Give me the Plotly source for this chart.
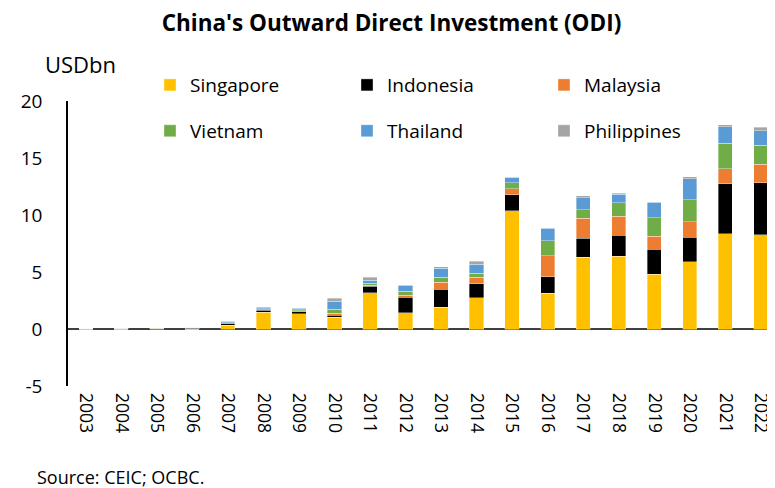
import plotly.graph_objects as go

years = [str(y) for y in range(2003, 2023)]
singapore   = [0.00, 0.00, 0.02, 0.00, 0.35, 1.46, 1.32, 1.02, 3.16, 1.43, 1.93, 2.72, 10.38, 3.13, 6.29, 6.40, 4.80, 5.90, 8.36, 8.27]
indonesia   = [0.03, 0.06, 0.01, 0.06, 0.09, 0.18, 0.20, 0.18, 0.58, 1.35, 1.55, 1.26, 1.40, 1.46, 1.67, 1.84, 2.19, 2.16, 4.39, 4.56]
malaysia    = [0.00, 0.00, 0.00, 0.05, 0.02, 0.06, 0.06, 0.17, 0.09, 0.20, 0.64, 0.56, 0.53, 1.84, 1.75, 1.64, 1.14, 1.37, 1.32, 1.61]
vietnam     = [0.00, 0.02, 0.02, 0.04, 0.09, 0.06, 0.12, 0.35, 0.20, 0.35, 0.44, 0.35, 0.53, 1.29, 0.76, 1.20, 1.64, 1.90, 2.22, 1.70]
thailand    = [0.00, 0.02, 0.05, 0.02, 0.10, 0.12, 0.10, 0.73, 0.23, 0.53, 0.76, 0.79, 0.41, 1.11, 1.05, 0.73, 1.37, 1.84, 1.46, 1.26]
philippines = [0.00, 0.00, 0.01, 0.00, 0.05, 0.06, 0.08, 0.23, 0.26, 0.03, 0.12, 0.26, 0.06, 0.06, 0.15, 0.09, 0.02, 0.18, 0.18, 0.29]

ytick_vals = [-5, 0, 5, 10, 15, 20]
ytick_text = ["-5", "0", "5", "10", "15", "20"]

series = [
    ("Singapore", singapore, "#FFC000", "legend"),
    ("Indonesia", indonesia, "#000000", "legend"),
    ("Malaysia", malaysia, "#ED7D31", "legend"),
    ("Vietnam", vietnam, "#70AD47", "legend2"),
    ("Thailand", thailand, "#5B9BD5", "legend2"),
    ("Philippines", philippines, "#A5A5A5", "legend2"),
]

FONT = "Open Sans"
fig = go.Figure()
for name, vals, color, lg in series:
    fig.add_trace(go.Bar(
        x=years, y=vals, name=name, legend=lg,
        marker=dict(color=color, line=dict(color="rgba(255,255,255,0.6)", width=0.6)),
    ))

fig.update_layout(
    width=767, height=480,
    barmode="stack", bargap=0.6,
    paper_bgcolor="white", plot_bgcolor="white",
    margin=dict(l=60, r=0, t=93, b=102),
    font=dict(family=FONT, size=18, color="#000000"),
    title=dict(text="<b>China's Outward Direct Investment (ODI)</b>",
               x=0.5, xanchor="center", xref="container", yref="container", y=0.968, yanchor="middle",
               font=dict(family=FONT, size=22.5, color="#000000")),
    showlegend=True,
    legend=dict(orientation="h", x=0.116, xanchor="left", y=1.056, yanchor="middle",
                entrywidth=152, entrywidthmode="pixels", bgcolor="rgba(0,0,0,0)",
                font=dict(family=FONT, size=19), traceorder="normal"),
    legend2=dict(orientation="h", x=0.116, xanchor="left", y=0.895, yanchor="middle",
                 entrywidth=152, entrywidthmode="pixels", bgcolor="rgba(0,0,0,0)",
                 font=dict(family=FONT, size=19), traceorder="normal"),
    xaxis=dict(type="category", range=[-0.5, 19.4], tickangle=90, showgrid=False,
               showline=False, zeroline=False, ticks="", ticklabelstandoff=6,
               ticklabeloverflow="allow",
               tickfont=dict(family=FONT, size=17.5)),
    yaxis=dict(range=[-5, 20], tickmode="array", tickvals=ytick_vals, ticktext=ytick_text,
               showgrid=False, showline=True, linecolor="#000000", linewidth=1.5,
               zeroline=True, zerolinecolor="#404040", zerolinewidth=2,
               ticks="", ticklabelstandoff=20, tickfont=dict(family=FONT, size=19)),
    annotations=[
        dict(text="USDbn", xref="paper", yref="paper", x=-0.036, y=1.13,
             xanchor="left", yanchor="middle", showarrow=False,
             font=dict(family=FONT, size=22)),
        dict(text="Source: CEIC; OCBC.", xref="paper", yref="paper", x=-0.047, y=-0.32,
             xanchor="left", yanchor="middle", showarrow=False,
             font=dict(family=FONT, size=18)),
    ],
)

fig.write_html("out.html")
